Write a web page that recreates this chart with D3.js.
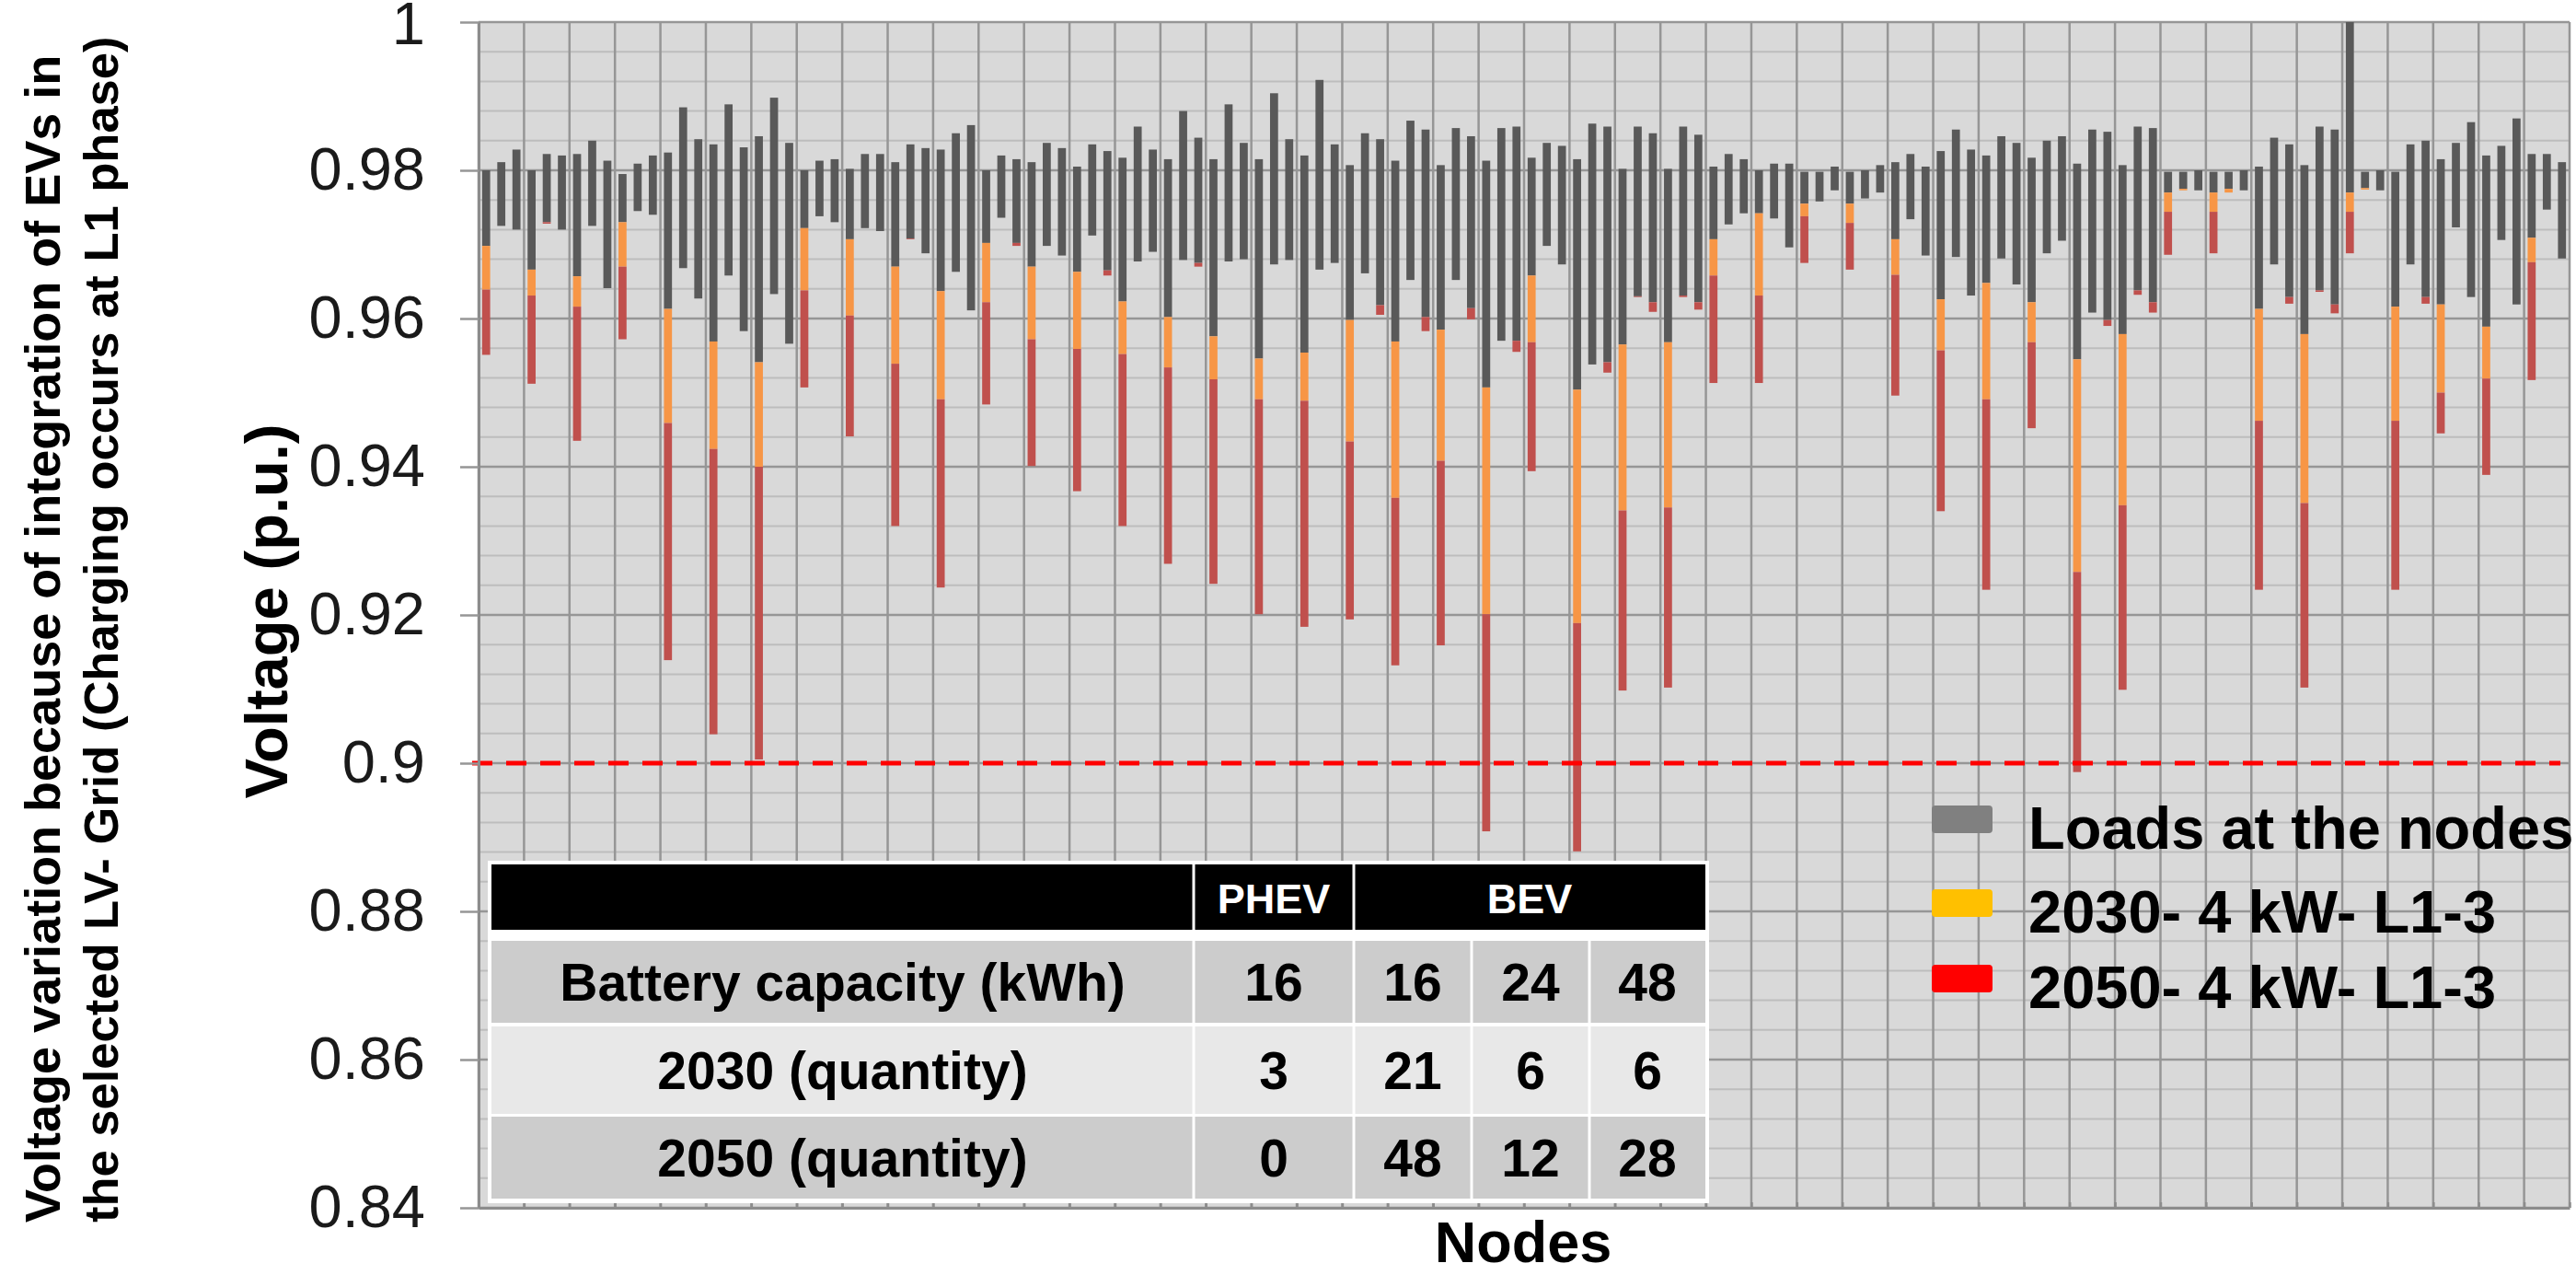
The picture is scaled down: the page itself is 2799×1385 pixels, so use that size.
<!DOCTYPE html>
<html><head><meta charset="utf-8">
<script src="https://cdn.jsdelivr.net/npm/d3@7"></script>
<style>
html,body{margin:0;padding:0;background:#fff;}
svg{display:block;}
text{font-family:"Liberation Sans",Arial,Helvetica,sans-serif;}
</style>
</head><body>
<svg id="chart" width="2799" height="1385"></svg>
<script>
// ---------------- DATA ----------------
const nodes = d3.range(1, 139); // node numbers 1..138

// upper end of the grey bar (voltage with loads only, max)
const loadMax = [
0.9800,0.9811,0.9828,0.9800,0.9822,0.9820,0.9822,0.9840,0.9813,0.9795,
0.9809,0.9820,0.9824,0.9885,0.9842,0.9835,0.9889,0.9831,0.9846,0.9898,
0.9837,0.9800,0.9813,0.9815,0.9802,0.9822,0.9822,0.9811,0.9835,0.9830,
0.9828,0.9850,0.9861,0.9800,0.9820,0.9815,0.9811,0.9837,0.9830,0.9805,
0.9835,0.9826,0.9817,0.9859,0.9828,0.9815,0.9880,0.9844,0.9815,0.9889,
0.9837,0.9815,0.9904,0.9842,0.9820,0.9922,0.9835,0.9807,0.9850,0.9842,
0.9813,0.9867,0.9855,0.9807,0.9857,0.9846,0.9813,0.9857,0.9859,0.9817,
0.9837,0.9833,0.9815,0.9863,0.9859,0.9802,0.9859,0.9850,0.9802,0.9859,
0.9848,0.9805,0.9822,0.9815,0.9800,0.9809,0.9809,0.9798,0.9798,0.9805,
0.9798,0.9800,0.9807,0.9811,0.9822,0.9805,0.9826,0.9855,0.9828,0.9820,
0.9846,0.9837,0.9817,0.9840,0.9846,0.9809,0.9855,0.9852,0.9807,0.9859,
0.9857,0.9798,0.9798,0.9800,0.9798,0.9798,0.9800,0.9805,0.9844,0.9835,
0.9807,0.9859,0.9855,1.0000,0.9798,0.9800,0.9798,0.9835,0.9840,0.9815,
0.9837,0.9865,0.9820,0.9833,0.9870,0.9822,0.9822,0.9811];

// lower end of the grey bar (voltage with loads only, min)
const loadMin = [
0.9698,0.9725,0.9720,0.9666,0.9730,0.9720,0.9657,0.9725,0.9641,0.9730,
0.9745,0.9740,0.9613,0.9668,0.9627,0.9569,0.9658,0.9583,0.9541,0.9633,
0.9566,0.9722,0.9738,0.9730,0.9707,0.9722,0.9718,0.9670,0.9708,0.9688,
0.9637,0.9663,0.9611,0.9702,0.9736,0.9702,0.9670,0.9698,0.9685,0.9663,
0.9712,0.9665,0.9623,0.9677,0.9690,0.9602,0.9679,0.9675,0.9576,0.9677,
0.9680,0.9546,0.9673,0.9679,0.9554,0.9666,0.9675,0.9598,0.9661,0.9618,
0.9569,0.9652,0.9602,0.9585,0.9652,0.9614,0.9507,0.9570,0.9570,0.9658,
0.9698,0.9673,0.9504,0.9538,0.9541,0.9565,0.9630,0.9622,0.9568,0.9631,
0.9622,0.9707,0.9727,0.9742,0.9742,0.9735,0.9696,0.9755,0.9758,0.9773,
0.9755,0.9762,0.9770,0.9707,0.9734,0.9685,0.9626,0.9683,0.9631,0.9648,
0.9681,0.9646,0.9622,0.9688,0.9705,0.9545,0.9608,0.9598,0.9579,0.9638,
0.9622,0.9770,0.9775,0.9773,0.9770,0.9775,0.9773,0.9613,0.9673,0.9629,
0.9579,0.9638,0.9619,0.9770,0.9776,0.9773,0.9616,0.9673,0.9629,0.9619,
0.9723,0.9629,0.9589,0.9706,0.9619,0.9709,0.9747,0.9681];

// minimum voltage with 2030 EV charging (bottom of the orange segment)
const ev2030 = [
0.9639,0.9725,0.9720,0.9631,0.9730,0.9720,0.9616,0.9725,0.9641,0.9670,
0.9745,0.9740,0.9459,0.9668,0.9627,0.9424,0.9658,0.9583,0.9400,0.9633,
0.9566,0.9638,0.9738,0.9730,0.9604,0.9722,0.9718,0.9539,0.9708,0.9688,
0.9491,0.9663,0.9611,0.9622,0.9736,0.9702,0.9572,0.9698,0.9685,0.9559,
0.9712,0.9665,0.9552,0.9677,0.9690,0.9534,0.9679,0.9675,0.9518,0.9677,
0.9680,0.9491,0.9673,0.9679,0.9489,0.9666,0.9675,0.9434,0.9661,0.9618,
0.9358,0.9652,0.9602,0.9408,0.9652,0.9614,0.9201,0.9570,0.9570,0.9568,
0.9698,0.9673,0.9189,0.9538,0.9541,0.9341,0.9630,0.9622,0.9345,0.9631,
0.9622,0.9658,0.9727,0.9742,0.9631,0.9735,0.9696,0.9738,0.9758,0.9773,
0.9729,0.9762,0.9770,0.9659,0.9734,0.9685,0.9557,0.9683,0.9631,0.9491,
0.9681,0.9646,0.9568,0.9688,0.9705,0.9258,0.9608,0.9598,0.9348,0.9638,
0.9622,0.9744,0.9773,0.9773,0.9744,0.9770,0.9773,0.9462,0.9673,0.9629,
0.9351,0.9638,0.9619,0.9744,0.9774,0.9773,0.9462,0.9673,0.9629,0.9500,
0.9723,0.9629,0.9519,0.9706,0.9619,0.9676,0.9747,0.9681];

// minimum voltage with 2050 EV charging (bottom of the red segment)
const ev2050 = [
0.9551,0.9725,0.9720,0.9512,0.9728,0.9720,0.9435,0.9725,0.9641,0.9572,
0.9745,0.9740,0.9139,0.9668,0.9627,0.9039,0.9658,0.9583,0.9005,0.9633,
0.9566,0.9507,0.9738,0.9730,0.9441,0.9722,0.9718,0.9320,0.9707,0.9688,
0.9237,0.9663,0.9611,0.9484,0.9736,0.9698,0.9401,0.9698,0.9685,0.9367,
0.9712,0.9658,0.9320,0.9677,0.9690,0.9269,0.9679,0.9670,0.9242,0.9677,
0.9680,0.9201,0.9673,0.9679,0.9184,0.9666,0.9675,0.9194,0.9661,0.9605,
0.9132,0.9652,0.9583,0.9159,0.9652,0.9599,0.8908,0.9570,0.9555,0.9394,
0.9698,0.9673,0.8881,0.9538,0.9527,0.9098,0.9629,0.9609,0.9102,0.9629,
0.9612,0.9513,0.9727,0.9742,0.9513,0.9735,0.9696,0.9675,0.9758,0.9773,
0.9666,0.9762,0.9770,0.9496,0.9734,0.9685,0.9340,0.9683,0.9631,0.9234,
0.9681,0.9646,0.9452,0.9688,0.9705,0.8988,0.9608,0.9590,0.9099,0.9632,
0.9608,0.9686,0.9773,0.9773,0.9688,0.9770,0.9773,0.9234,0.9673,0.9620,
0.9102,0.9636,0.9607,0.9688,0.9774,0.9773,0.9234,0.9673,0.9620,0.9445,
0.9723,0.9629,0.9389,0.9706,0.9619,0.9517,0.9747,0.9681];

const yTicks = [0.84, 0.86, 0.88, 0.90, 0.92, 0.94, 0.96, 0.98, 1.00];
const yTickLabels = ["0.84", "0.86", "0.88", "0.9", "0.92", "0.94", "0.96", "0.98", "1"];
const limitValue = 0.9;

const legendLabels = ["Loads at the nodes", "2030- 4 kW- L1-3", "2050- 4 kW- L1-3"];
const legendColors = ["#808080", "#FFC000", "#FF0000"];

const tableHeader = ["", "PHEV", "BEV"];
const tableRowLabels = ["Battery capacity (kWh)", "2030 (quantity)", "2050 (quantity)"];
const tablePHEV = [16, 3, 0];
const tableBEV = [[16, 24, 48], [21, 6, 6], [48, 12, 28]];

// ---------------- LAYOUT ----------------
const plot = {left: 520, right: 2792, top: 24, bottom: 1312};
const svg = d3.select("#chart");

const y = d3.scaleLinear().domain([0.84, 1]).range([plot.bottom, plot.top]);
const x = d3.scaleBand().domain(nodes).range([plot.left, plot.right])
  .paddingInner(0.47).paddingOuter(0.235);
const xEdge = d3.scaleLinear().domain([0, nodes.length]).range([plot.left, plot.right]);

// background
svg.append("rect").attr("x", plot.left).attr("y", plot.top)
  .attr("width", plot.right - plot.left).attr("height", plot.bottom - plot.top)
  .attr("fill", "#D9D9D9");

// minor horizontal grid
const minorVals = d3.range(0, 41).map(i => 0.84 + i * 0.004).filter((v, i) => i % 5 !== 0);
svg.append("g").selectAll("line").data(minorVals).join("line")
  .attr("x1", plot.left).attr("x2", plot.right)
  .attr("y1", d => y(d)).attr("y2", d => y(d))
  .attr("stroke", "#BDBDBD").attr("stroke-width", 2);

// major horizontal grid
svg.append("g").selectAll("line").data(yTicks).join("line")
  .attr("x1", plot.left).attr("x2", plot.right)
  .attr("y1", d => y(d)).attr("y2", d => y(d))
  .attr("stroke", "#969696").attr("stroke-width", 2.5);

// vertical grid (every 3 nodes)
const vEdges = d3.range(0, nodes.length + 1, 3);
svg.append("g").selectAll("line").data(vEdges).join("line")
  .attr("x1", d => xEdge(d)).attr("x2", d => xEdge(d))
  .attr("y1", plot.top).attr("y2", plot.bottom)
  .attr("stroke", "#969696").attr("stroke-width", 2.5);

// bars
const bars = svg.append("g");
bars.selectAll("rect.load").data(nodes).join("rect").attr("class", "load")
  .attr("x", d => x(d)).attr("width", x.bandwidth())
  .attr("y", (d, i) => y(loadMax[i]))
  .attr("height", (d, i) => Math.max(0, y(loadMin[i]) - y(loadMax[i])))
  .attr("fill", "#595959");
bars.selectAll("rect.e30").data(nodes).join("rect").attr("class", "e30")
  .attr("x", d => x(d)).attr("width", x.bandwidth())
  .attr("y", (d, i) => y(loadMin[i]))
  .attr("height", (d, i) => Math.max(0, y(ev2030[i]) - y(loadMin[i])))
  .attr("fill", "#F79646");
bars.selectAll("rect.e50").data(nodes).join("rect").attr("class", "e50")
  .attr("x", d => x(d)).attr("width", x.bandwidth())
  .attr("y", (d, i) => y(ev2030[i]))
  .attr("height", (d, i) => Math.max(0, y(ev2050[i]) - y(ev2030[i])))
  .attr("fill", "#C0504D");

// 0.9 p.u. limit line
svg.append("line")
  .attr("x1", plot.left - 7).attr("x2", plot.right - 10)
  .attr("y1", y(limitValue)).attr("y2", y(limitValue))
  .attr("stroke", "#FF0000").attr("stroke-width", 5)
  .attr("stroke-dasharray", "22,15");

// y axis
const yAxis = svg.append("g").attr("transform", `translate(${plot.left},0)`)
  .call(d3.axisLeft(y).tickValues(yTicks).tickSize(20).tickPadding(38).tickSizeOuter(0)
    .tickFormat((d, i) => yTickLabels[i]));
yAxis.select(".domain").attr("stroke", "#8C8C8C").attr("stroke-width", 3);
yAxis.selectAll(".tick line").attr("stroke", "#969696").attr("stroke-width", 2.5);
yAxis.selectAll(".tick text").attr("font-size", 65).attr("fill", "#1A1A1A")
  .attr("font-family", "'Liberation Sans', Arial, sans-serif")
  .attr("dy", d => d === 1 ? "0.36em" : "0.32em");

// x axis
const xAxis = svg.append("g").attr("transform", `translate(0,${plot.bottom})`)
  .call(d3.axisBottom(xEdge).tickValues(vEdges).tickSize(-6).tickSizeOuter(0).tickFormat(""));
xAxis.select(".domain").attr("stroke", "#8C8C8C").attr("stroke-width", 3);
xAxis.selectAll(".tick line").attr("stroke", "#8C8C8C").attr("stroke-width", 2.5);

// table
const tbl = svg.append("g");
const colEdges = [534, 1297, 1471, 1599, 1727, 1853];
const rowBands = [[1022, 1111], [1115, 1210], [1213, 1302]];
const rowFills = ["#CCCCCC", "#E8E8E8", "#CCCCCC"];
tbl.append("rect").attr("x", 530).attr("y", 935).attr("width", 1327).attr("height", 372).attr("fill", "#FFFFFF");
tbl.append("rect").attr("x", colEdges[0]).attr("y", 939).attr("width", colEdges[5] - colEdges[0]).attr("height", 71).attr("fill", "#000000");
[colEdges[1], colEdges[2]].forEach(cx => {
  tbl.append("line").attr("x1", cx).attr("x2", cx).attr("y1", 939).attr("y2", 1010)
    .attr("stroke", "#FFFFFF").attr("stroke-width", 3);
});
tbl.append("text").attr("x", (colEdges[1] + colEdges[2]) / 2).attr("y", 992)
  .attr("text-anchor", "middle").attr("font-size", 45).attr("font-weight", "bold").attr("fill", "#FFFFFF")
  .text(tableHeader[1]);
tbl.append("text").attr("x", (colEdges[2] + colEdges[5]) / 2).attr("y", 992)
  .attr("text-anchor", "middle").attr("font-size", 45).attr("font-weight", "bold").attr("fill", "#FFFFFF")
  .text(tableHeader[2]);

tableRowLabels.forEach((lab, r) => {
  const [y0, y1] = rowBands[r];
  const cells = [lab, tablePHEV[r], ...tableBEV[r]];
  cells.forEach((val, c) => {
    const xa = colEdges[c], xb = colEdges[c + 1];
    tbl.append("rect").attr("x", xa + (c === 0 ? 0 : 1.5)).attr("y", y0)
      .attr("width", xb - xa - (c === 0 ? 1.5 : 3) + (c === 4 ? 1.5 : 0)).attr("height", y1 - y0)
      .attr("fill", rowFills[r]);
    tbl.append("text").attr("x", (xa + xb) / 2).attr("y", (y0 + y1) / 2 + 20.5)
      .attr("text-anchor", "middle").attr("font-size", 57).attr("font-weight", "bold").attr("fill", "#000")
      .text(val);
  });
});

// legend
const legendDy = [0, 91, 173];
const legend = svg.append("g");
legendLabels.forEach((lab, i) => {
  legend.append("rect").attr("x", 2099).attr("y", 875 + legendDy[i]).attr("width", 66).attr("height", 30)
    .attr("rx", 4).attr("fill", legendColors[i]);
  legend.append("text").attr("x", 2204).attr("y", 921.5 + legendDy[i])
    .attr("font-size", 65).attr("font-weight", "bold").attr("fill", "#000").text(lab);
});

// axis titles
svg.append("text").attr("x", 1655).attr("y", 1371).attr("text-anchor", "middle")
  .attr("font-size", 63).attr("font-weight", "bold").attr("fill", "#000").text("Nodes");
svg.append("text").attr("transform", "translate(312,664) rotate(-90)").attr("text-anchor", "middle")
  .attr("font-size", 65).attr("font-weight", "bold").attr("fill", "#000").text("Voltage (p.u.)");
svg.append("text").attr("transform", "translate(65,1328) rotate(-90)").attr("text-anchor", "start")
  .attr("font-size", 54).attr("font-weight", "bold").attr("fill", "#000")
  .text("Voltage variation because of integration of EVs in");
svg.append("text").attr("transform", "translate(128,1328) rotate(-90)").attr("text-anchor", "start")
  .attr("font-size", 52.5).attr("font-weight", "bold").attr("fill", "#000")
  .text("the selected LV- Grid (Charging occurs at L1 phase)");
</script>
</body></html>
